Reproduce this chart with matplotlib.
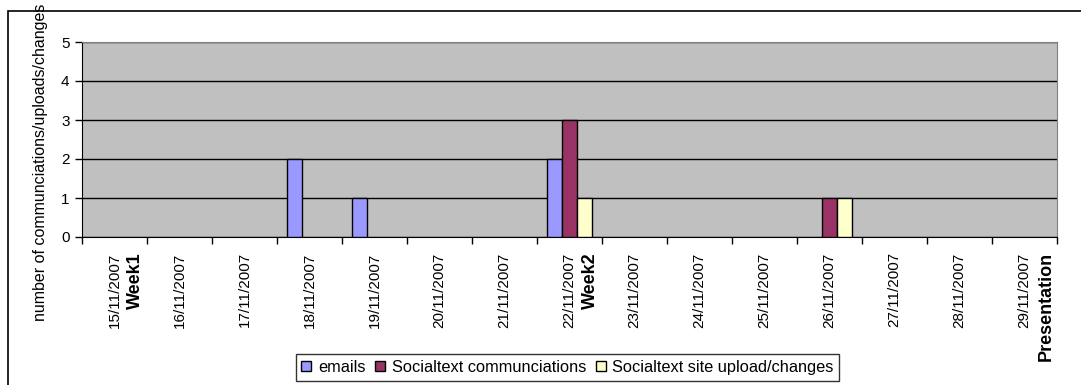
import numpy as np
import matplotlib
matplotlib.use("Agg")
import matplotlib.pyplot as plt
from matplotlib.patches import Rectangle

plt.rcParams['font.family'] = ['Liberation Sans', 'DejaVu Sans']

dates = ['15/11/2007', '16/11/2007', '17/11/2007', '18/11/2007', '19/11/2007',
         '20/11/2007', '21/11/2007', '22/11/2007', '23/11/2007', '24/11/2007',
         '25/11/2007', '26/11/2007', '27/11/2007', '28/11/2007', '29/11/2007']
week_marks = {0: 'Week1', 7: 'Week2', 14: 'Presentation'}

emails = [0, 0, 0, 2, 1, 0, 0, 2, 0, 0, 0, 0, 0, 0, 0]
comms = [0, 0, 0, 0, 0, 0, 0, 3, 0, 0, 0, 1, 0, 0, 0]
uploads = [0, 0, 0, 0, 0, 0, 0, 1, 0, 0, 0, 1, 0, 0, 0]

series = [('emails', emails, '#9999FF'),
          ('Socialtext communciations', comms, '#993366'),
          ('Socialtext site upload/changes', uploads, '#FFFFCC')]

W, H = 1081, 385
fig = plt.figure(figsize=(W / 100, H / 100), dpi=100)
ax = fig.add_axes([82 / W, 1 - 237 / H, 975 / W, 195 / H])
ax.set_facecolor('#C0C0C0')

x = np.arange(len(dates))
bw = 0.23
handles = []
for k, (name, vals, col) in enumerate(series):
    v = np.array(vals, dtype=float)
    v[v == 0] = np.nan  # excel draws nothing for zero
    b = ax.bar(x + (k - 1) * bw, v, width=bw, color=col, edgecolor='black',
               linewidth=1, label=name, zorder=3)
    handles.append(b)

ax.set_xlim(-0.5, len(dates) - 0.5)
ax.set_ylim(0, 5)
ax.set_yticks(range(6))
ax.yaxis.grid(True, color='black', linewidth=1)
ax.set_axisbelow(True)

# ticks on category boundaries, labels in the middle
ax.set_xticks(np.arange(len(dates) + 1) - 0.5)
ax.set_xticklabels([])
ax.set_xticks(x, minor=True)
ax.set_xticklabels(dates, minor=True, rotation=90, fontsize=11, va='top')
ax.tick_params(axis='x', which='minor', length=0, pad=11)
ax.tick_params(axis='x', which='major', length=5, width=1, direction='out')
ax.tick_params(axis='y', length=5, width=1, direction='out', labelsize=11, pad=4)

for i, lab in week_marks.items():
    ax.text(i + 0.33, -15 / 195, lab, transform=ax.get_xaxis_transform(),
            rotation=90, ha='center', va='top', fontsize=13, fontweight='bold')

for s in ['top', 'right']:
    ax.spines[s].set_color('#808080')
ax.spines['left'].set_color('black')
ax.spines['bottom'].set_color('black')

fig.text(41 / W, 1 - 162 / H, 'number of communciations/uploads/changes',
         rotation=90, ha='center', va='center', fontsize=11.5)

leg = fig.legend(handles=handles, loc='center', ncol=3,
                 bbox_to_anchor=(567.5 / W, 1 - 367.5 / H), fontsize=11.8,
                 frameon=True, fancybox=False, shadow=False,
                 handlelength=0.6, handleheight=0.6, handletextpad=0.4,
                 columnspacing=0.6, borderpad=0.35, borderaxespad=0)
leg.get_frame().set_edgecolor('black')
leg.get_frame().set_linewidth(1)

# outer chart border (left and top visible)
fig.add_artist(Rectangle((8 / W, -0.1), 1.2, 1.1 - 11 / H,
                         transform=fig.transFigure, fill=False,
                         edgecolor='black', linewidth=1.2))

fig.savefig('out.png', dpi=100)
